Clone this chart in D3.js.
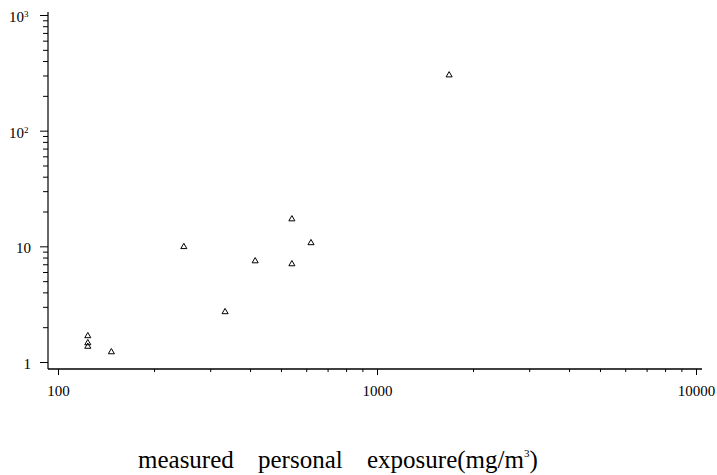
<!DOCTYPE html>
<html>
<head>
<meta charset="utf-8">
<script src="https://cdn.jsdelivr.net/npm/d3@7"></script>
<style>
  body { margin: 0; background: #fff; }
  svg { display: block; font-family: "Liberation Serif", "DejaVu Serif", serif; }
</style>
</head>
<body>
<svg id="chart" width="717" height="475"></svg>
<script>
// measured personal exposure (mg/m3) vs. the y quantity
const exposure = [124, 124, 124, 147, 248, 334, 415, 541, 541, 621, 1683];
const response = [1.68, 1.46, 1.36, 1.22, 9.9, 2.71, 7.46, 17.2, 7.03, 10.7, 302];

const xMajor = [100, 1000, 10000];
const yMajor = [1, 10, 100, 1000];
const yLabels = [["1", ""], ["10", ""], ["10", "2"], ["10", "3"]];
const titleWords = ["measured", "personal", "exposure(mg/m"];

const svg = d3.select("#chart");

const x = d3.scaleLog().domain([100, 10000]).range([58, 696]);
const y = d3.scaleLog().domain([1, 1000]).range([362, 15]);

// minor ticks: 2..9 of every decade
const minors = (lo, hi) => {
  const out = [];
  for (let d = lo; d < hi; d *= 10) {
    for (let k = 2; k <= 9; k++) out.push(k * d);
  }
  return out;
};

/* X axis */
const xAxisY = 369;
svg.append("line")
  .attr("x1", 48).attr("x2", 702)
  .attr("y1", xAxisY).attr("y2", xAxisY)
  .attr("stroke", "#000").attr("stroke-width", 1.3);

const gx = svg.append("g").attr("transform", `translate(0,${xAxisY})`);
gx.call(d3.axisBottom(x).tickValues(minors(100, 10000)).tickSize(3).tickFormat(""));
gx.append("g").call(d3.axisBottom(x).tickValues(xMajor).tickSize(6)
  .tickFormat(d3.format("d")));
gx.selectAll(".domain").remove();
gx.selectAll("line").attr("stroke", "#000").attr("stroke-width", 1);
gx.selectAll("text")
  .attr("y", 27)
  .attr("dy", null)
  .attr("fill", "#000")
  .style("font-family", "Liberation Serif, serif")
  .style("font-size", "15px");

/* Y axis */
const yAxisX = 48;
svg.append("line")
  .attr("x1", yAxisX).attr("x2", yAxisX)
  .attr("y1", 12).attr("y2", xAxisY)
  .attr("stroke", "#000").attr("stroke-width", 1.2);

const gy = svg.append("g").attr("transform", `translate(${yAxisX},0)`);
gy.call(d3.axisLeft(y).tickValues(minors(1, 1000)).tickSize(5).tickFormat(""));
gy.append("g").call(d3.axisLeft(y).tickValues(yMajor).tickSize(8).tickFormat(""));
gy.selectAll(".domain").remove();
gy.selectAll("line").attr("stroke", "#000").attr("stroke-width", 1);

// y labels with superscript exponents
const yl = svg.append("g")
  .selectAll("text")
  .data(yMajor)
  .join("text")
  .attr("x", d => (d >= 100 ? 25 : 31))
  .attr("y", d => y(d) + 7)
  .attr("text-anchor", "end")
  .attr("fill", "#000")
  .style("font-size", "15px");
yl.append("tspan").text((d, i) => yLabels[i][0]);
yl.append("tspan")
  .attr("dy", -5)
  .style("font-size", "9px")
  .text((d, i) => yLabels[i][1]);
// exponent sits outside the end anchor, so shift the whole label
yl.attr("text-anchor", "start")
  .attr("x", d => (d >= 100 ? 9 : 31 - String(d).length * 7.5));

/* points */
svg.append("g")
  .selectAll("path")
  .data(exposure.map((e, i) => [e, response[i]]))
  .join("path")
  .attr("transform", d => `translate(${x(d[0])},${y(d[1])})`)
  .attr("d", d3.symbol(d3.symbolTriangle, 16))
  .attr("fill", "none")
  .attr("stroke", "#000")
  .attr("stroke-width", 1);

/* x title */
const titleX = [138, 258, 367];
const title = svg.append("text")
  .attr("y", 468)
  .attr("fill", "#000")
  .style("font-size", "25px");
titleWords.forEach((w, i) => {
  title.append("tspan").attr("x", titleX[i]).attr("y", 468).text(w);
});
title.append("tspan").attr("dy", -11).style("font-size", "11px").text("3");
title.append("tspan").attr("dy", 11).text(")");
</script>
</body>
</html>
